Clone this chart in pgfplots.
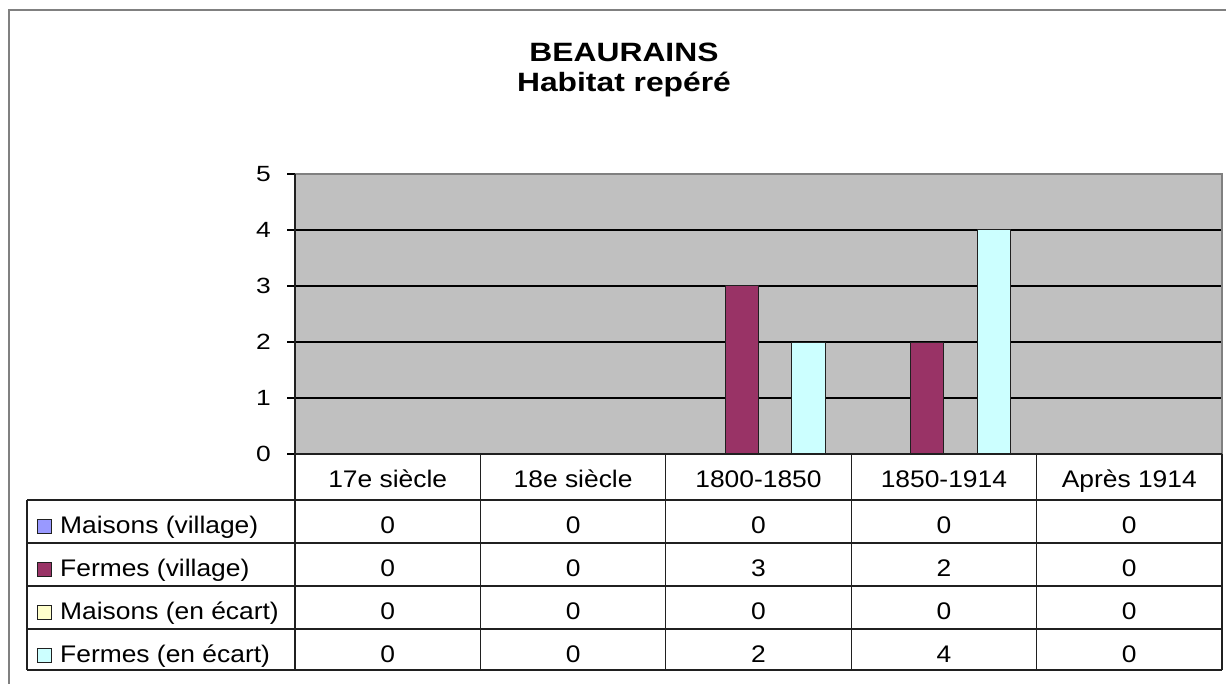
\documentclass[border=0pt]{standalone}
\usepackage{pgfplots}
\pgfplotsset{compat=1.18}
\usepackage{graphicx}
\usepackage{fontspec}
\setmainfont{Liberation Sans}
\definecolor{plotgray}{HTML}{C0C0C0}
\definecolor{cMV}{HTML}{9999FF}
\definecolor{cFV}{HTML}{993366}
\definecolor{cME}{HTML}{FFFFCC}
\definecolor{cFE}{HTML}{CCFFFF}
\definecolor{framegray}{HTML}{808080}
\definecolor{linecol}{HTML}{202020}
\newcommand\tfont{\fontsize{24}{28}\selectfont}
\newcommand\sx[1]{\scalebox{1.1}[1]{#1}}
\begin{document}
\begin{tikzpicture}[x=1pt,y=1pt]
\path[use as bounding box] (0,0) rectangle (1226,-684);
\draw[framegray, line width=2pt] (9,-684) -- (9,-10) -- (1226,-10);
\node[anchor=base, inner sep=0pt] at (624,-61.7) {\fontsize{26.5}{30}\selectfont\bfseries\scalebox{1.2}[1]{BEAURAINS}};
\node[anchor=base, inner sep=0pt] at (624,-92) {\fontsize{26.5}{30}\selectfont\bfseries\scalebox{1.2}[1]{Habitat repéré}};
\begin{axis}[
  at={(295pt,-454pt)}, anchor=south west, scale only axis,
  width=927pt, height=280pt,
  xmin=-0.5, xmax=4.5, ymin=0, ymax=5,
  axis line style={draw=none},
  axis background/.style={fill=plotgray},
  ytick={0,1,2,3,4,5},
  /pgf/number format/assume math mode=true,
  yticklabel={\scalebox{1.2}[1]{\pgfmathprintnumber{\tick}}},
  yticklabel style={font=\fontsize{22}{26}\selectfont, anchor=east, inner sep=0pt, xshift=-16pt},
  ymajorgrids, grid style={black, line width=1.2pt},
  tick align=outside, major tick length=8pt,
  tick style={black, line width=1.2pt},
  ytick pos=left,
  xtick={0,1,2,3,4},
  xticklabels={\sx{17e siècle}, \sx{18e siècle}, \sx{1800-1850}, \sx{1850-1914}, \sx{Après 1914}},
  xtick style={draw=none},
  xticklabel style={font=\tfont, anchor=base, inner sep=0pt, yshift=-25pt},
  ybar, bar width=0.18,
  clip=false
]
\addplot[fill=cMV, draw=linecol, line width=1pt, bar shift=-0.27] coordinates {(0,0) (1,0) (2,0) (3,0) (4,0)};
\addplot[fill=cFV, draw=linecol, line width=1pt, bar shift=-0.09] coordinates {(0,0) (1,0) (2,3) (3,2) (4,0)};
\addplot[fill=cME, draw=linecol, line width=1pt, bar shift=0.09] coordinates {(0,0) (1,0) (2,0) (3,0) (4,0)};
\addplot[fill=cFE, draw=linecol, line width=1pt, bar shift=0.27] coordinates {(0,0) (1,0) (2,2) (3,4) (4,0)};
\end{axis}
% plot border
\draw[framegray, line width=1.5pt] (295,-174) -- (1222,-174) -- (1222,-454);
\draw[linecol, line width=1.3pt] (295,-174) -- (295,-454);
% data table grid
\draw[linecol, line width=1.3pt] (295,-454) -- (1222,-454);
\foreach \yy in {500,543,586,629,670} \draw[linecol, line width=1.3pt] (27,-\yy) -- (1222,-\yy);
\draw[linecol, line width=1.3pt] (27,-500) -- (27,-670);
\foreach \xx in {295,480.4,665.8,851.2,1036.6,1222} \draw[linecol, line width=1.3pt] (\xx,-454) -- (\xx,-670);
% rows
\draw[fill=cMV, draw=linecol, line width=0.8pt] (37,-533.5) rectangle (51,-519.5);
\node[anchor=base west, inner sep=0pt] at (60,-533.5) {\tfont\sx{Maisons (village)}};
\foreach \v [count=\i from 0] in {0,0,0,0,0} \node[anchor=base, inner sep=0pt] at ({387.7+185.4*\i},-533.5) {\tfont\sx{\v}};
\draw[fill=cFV, draw=linecol, line width=0.8pt] (37,-576.5) rectangle (51,-562.5);
\node[anchor=base west, inner sep=0pt] at (60,-576.5) {\tfont\sx{Fermes (village)}};
\foreach \v [count=\i from 0] in {0,0,3,2,0} \node[anchor=base, inner sep=0pt] at ({387.7+185.4*\i},-576.5) {\tfont\sx{\v}};
\draw[fill=cME, draw=linecol, line width=0.8pt] (37,-619.5) rectangle (51,-605.5);
\node[anchor=base west, inner sep=0pt] at (60,-619.5) {\tfont\sx{Maisons (en écart)}};
\foreach \v [count=\i from 0] in {0,0,0,0,0} \node[anchor=base, inner sep=0pt] at ({387.7+185.4*\i},-619.5) {\tfont\sx{\v}};
\draw[fill=cFE, draw=linecol, line width=0.8pt] (37,-662) rectangle (51,-648);
\node[anchor=base west, inner sep=0pt] at (60,-662) {\tfont\sx{Fermes (en écart)}};
\foreach \v [count=\i from 0] in {0,0,2,4,0} \node[anchor=base, inner sep=0pt] at ({387.7+185.4*\i},-662) {\tfont\sx{\v}};
\end{tikzpicture}
\end{document}
